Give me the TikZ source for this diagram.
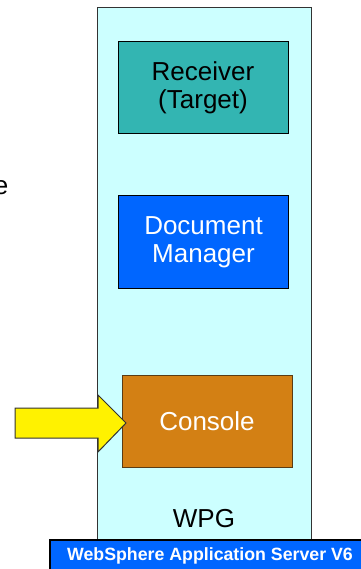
\documentclass[tikz,border=0pt]{standalone}
\usepackage{fontspec}
\setmainfont{Liberation Sans}
\definecolor{wpgcyan}{RGB}{204,255,255}
\definecolor{recteal}{RGB}{51,181,178}
\definecolor{docblue}{RGB}{0,102,255}
\definecolor{conorange}{RGB}{211,128,20}
\definecolor{conedge}{RGB}{90,60,20}
\tikzset{
  comp/.style={draw=black, line width=1pt, minimum width=170pt, minimum height=92pt,
    align=center, inner sep=0pt, font=\fontsize{26}{28}\selectfont},
  bigtext/.style={font=\fontsize{26}{28}\selectfont, inner sep=0pt}
}
\begin{document}
\begin{tikzpicture}[x=1pt,y=-1pt]
        % Bordi della figura
        \useasboundingbox (0,0) rectangle (360,569);

        % Contenitore WPG
        \node[draw=black!80, fill=wpgcyan, line width=1pt, anchor=north west,
              minimum width=214pt, minimum height=560pt, inner sep=0pt] (wpg) at (97,7) {};
        \node[bigtext, anchor=base] (wpglabel) at (204,527) {WPG};

        % Componenti
        \node[comp, fill=recteal] (receiver) at (203,88) {Receiver\\(Target)};
        \node[comp, fill=docblue, text=white] (docmgr) at (203.5,242) {Document\\Manager};
        \node[comp, fill=conorange, draw=conedge, text=white] (console) at (207,421) {Console};

        % Testo tagliato a sinistra
        \node[bigtext, anchor=base east] (cut) at (8.5,195) {e};

        % Freccia verso la console
        \draw[fill=yellow, draw=black!80, line width=1pt]
        (15,408) -- (98,408) -- (98,395) -- (126,423) -- (98,452) -- (98,438) -- (15,438) -- cycle;

        % Barra WebSphere
        \node[draw=black, fill=docblue, line width=2pt, anchor=north west,
              minimum width=330pt, minimum height=40pt, inner sep=0pt] (was) at (49,539) {};
        \node[text=white, inner sep=0pt, font=\fontsize{17.75}{20}\selectfont\bfseries]
              (waslabel) at (210,555.5) {WebSphere Application Server V6};
    \end{tikzpicture}
\end{document}
